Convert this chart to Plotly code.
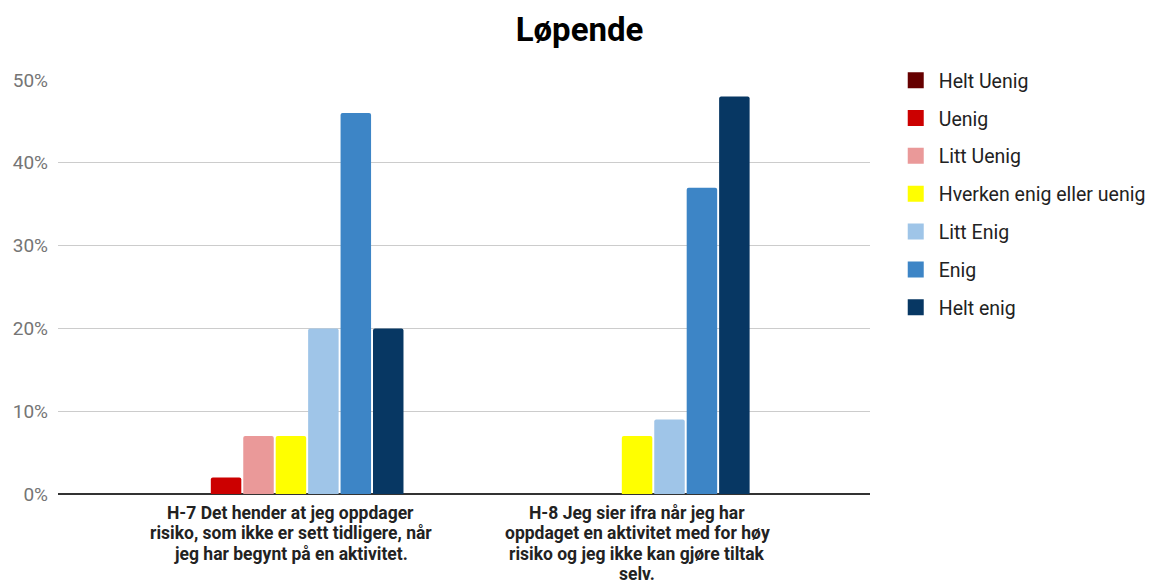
import plotly.graph_objects as go

category_lines = [
    ["H-7 Det hender at jeg oppdager", "risiko, som ikke er sett tidligere, når", "jeg har begynt på en aktivitet."],
    ["H-8 Jeg sier ifra når jeg har", "oppdaget en aktivitet med for høy", "risiko og jeg ikke kan gjøre tiltak", "selv."],
]
series_names = ["Helt Uenig", "Uenig", "Litt Uenig", "Hverken enig eller uenig", "Litt Enig", "Enig", "Helt enig"]
helt_uenig = [0, 0]
uenig = [2, 0]
litt_uenig = [7, 0]
hverken = [7, 7]
litt_enig = [20, 9]
enig = [46, 37]
helt_enig = [20, 48]
series_values = [helt_uenig, uenig, litt_uenig, hverken, litt_enig, enig, helt_enig]
colors = ["#660000", "#cc0000", "#ea9999", "#ffff00", "#9fc5e8", "#3d85c6", "#073763"]
y_ticks = [0, 10, 20, 30, 40, 50]
y_tick_labels = ["0%", "10%", "20%", "30%", "40%", "50%"]

cat_x = list(range(len(category_lines)))

fig = go.Figure()
for i, (name, vals, col) in enumerate(zip(series_names, series_values, colors)):
    fig.add_trace(go.Bar(
        x=cat_x, y=vals, name=name, marker_color=col, marker_line_width=0,
        legendgroup=f"g{i}", showlegend=False,
    ))
    # legend entry with a larger square swatch
    fig.add_trace(go.Scatter(
        x=[None], y=[None], mode="markers", name=name, legendgroup=f"g{i}",
        marker=dict(symbol="square", size=16, color=col), showlegend=True,
    ))

annotations = []
for ci, lines in enumerate(category_lines):
    for k, line in enumerate(lines):
        annotations.append(dict(
            x=cat_x[ci], xref="x", y=0, yref="y", text=f"<b>{line}</b>",
            showarrow=False, xanchor="center", yanchor="middle",
            yshift=-(18.5 + 20.6 * k),
            font=dict(family="Roboto", size=17.5, color="#222222"),
        ))

fig.update_layout(
    width=1159, height=583,
    margin=dict(l=58, r=289, t=80, b=89, autoexpand=False),
    paper_bgcolor="white", plot_bgcolor="white",
    font=dict(family="Roboto", size=19, color="#222222"),
    title=dict(text="<b>Løpende</b>", x=0.5, xref="container", xanchor="center",
               y=1 - 29 / 583, yref="container", yanchor="middle",
               font=dict(size=33, color="#000000")),
    barmode="group", bargap=0.344, bargroupgap=0.06, barcornerradius=2,
    showlegend=True,
    legend=dict(x=1.028, xanchor="left", y=1.046, yanchor="top",
                font=dict(size=19.5, color="#222222"), tracegroupgap=9.5,
                traceorder="grouped", itemwidth=36),
    annotations=annotations,
)
fig.update_xaxes(
    tickmode="array", tickvals=cat_x, ticktext=["", ""],
    range=[-0.673, 1.673], showgrid=False, zeroline=False,
    ticks="", showline=False, automargin=False,
)
fig.update_yaxes(
    tickmode="array", tickvals=y_ticks, ticktext=y_tick_labels,
    range=[0, 50], showgrid=True, gridcolor="#cccccc", gridwidth=1,
    zeroline=True, zerolinecolor="#333333", zerolinewidth=2,
    tickfont=dict(size=19, color="#757575"), ticks="", ticklabelstandoff=9,
    automargin=False,
)
fig.write_html("out.html")
